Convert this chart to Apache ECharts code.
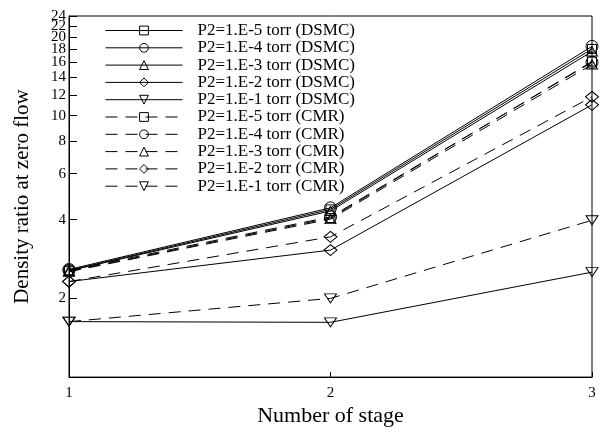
<!DOCTYPE html>
<html>
<head>
<meta charset="utf-8">
<script src="https://cdn.jsdelivr.net/npm/echarts@6/dist/echarts.min.js"></script>
<style>html,body{margin:0;padding:0;background:#fff}#c{width:600px;height:432px}</style>
</head>
<body>
<div id="c"></div>
<script>
const stages = [1, 2, 3];
const yTickValues = [2, 4, 6, 8, 10, 12, 14, 16, 18, 20, 22, 24];
const names = [
  'P2=1.E-5 torr (DSMC)', 'P2=1.E-4 torr (DSMC)', 'P2=1.E-3 torr (DSMC)',
  'P2=1.E-2 torr (DSMC)', 'P2=1.E-1 torr (DSMC)',
  'P2=1.E-5 torr (CMR)', 'P2=1.E-4 torr (CMR)', 'P2=1.E-3 torr (CMR)',
  'P2=1.E-2 torr (CMR)', 'P2=1.E-1 torr (CMR)'
];
const dsmcE5 = [2.56, 4.38, 18.0];
const dsmcE4 = [2.58, 4.44, 18.4];
const dsmcE3 = [2.55, 4.32, 17.6];
const dsmcE2 = [2.32, 3.06, 11.0];
const dsmcE1 = [1.63, 1.62, 2.52];
const cmrE5 = [2.54, 4.06, 16.1];
const cmrE4 = [2.56, 4.10, 16.0];
const cmrE3 = [2.53, 4.02, 15.7];
const cmrE2 = [2.32, 3.44, 11.8];
const cmrE1 = [1.63, 2.00, 3.98];

const values = [dsmcE5, dsmcE4, dsmcE3, dsmcE2, dsmcE1, cmrE5, cmrE4, cmrE3, cmrE2, cmrE1];
const downTri = 'path://M0,0L12,0L6,10Z';
const symbols = ['rect', 'circle', 'triangle', 'diamond', downTri];
const symbolSizes = [[9, 9], 12, [11, 9], [13, 11], [12, 9]];
const FONT = '"Liberation Serif", "DejaVu Serif", serif';

const series = values.map((vals, i) => ({
  name: names[i],
  type: 'line',
  yAxisIndex: 0,
  data: stages.map((s, j) => [s, vals[j]]),
  symbol: symbols[i % 5],
  symbolSize: symbolSizes[i % 5],
  showAllSymbol: true,
  clip: false,
  lineStyle: { color: '#000', width: 1, type: i < 5 ? 'solid' : [12, 8] },
  itemStyle: { color: 'rgba(255,255,255,0)', borderColor: '#000', borderWidth: 1 },
  emphasis: { disabled: true },
  animation: false
}));

const yMin = 1, yMax = 24.05;
// label groups: crowded top labels are split over overlaid axes so all are drawn
const labelGroups = [
  yTickValues.slice(0, 8),
  [yTickValues[8], yTickValues[10]],
  [yTickValues[9], yTickValues[11]]
];

const labelAxis = (vals, idx) => ({
  type: 'log', logBase: 10, min: yMin, max: yMax, position: 'left', offset: 0,
  name: idx === 0 ? 'Density ratio at zero flow' : '',
  nameLocation: 'middle', nameGap: 36,
  nameTextStyle: { fontFamily: FONT, fontSize: 21, color: '#000' },
  axisLine: { show: idx === 0, lineStyle: { color: '#000', width: 1 } },
  axisTick: { show: idx === 0, inside: true, length: 8, customValues: yTickValues, lineStyle: { color: '#000' } },
  axisLabel: { fontFamily: FONT, fontSize: 15, color: '#000', margin: 3, customValues: vals, showMaxLabel: true, showMinLabel: true },
  minorTick: { show: false },
  splitLine: { show: false }
});

const chart = echarts.init(document.getElementById('c'));
chart.setOption({
  animation: false,
  backgroundColor: '#fff',
  grid: { left: 69, right: 8, top: 16, bottom: 41, show: true, borderColor: '#000', borderWidth: 1, backgroundColor: 'transparent' },
  legend: {
    orient: 'vertical', left: 100, top: 17,
    itemWidth: 77, itemHeight: 11, itemGap: 0.3,
    lineStyle: { width: 1 },
    itemStyle: { borderWidth: 1 },
    textStyle: { fontFamily: FONT, fontSize: 17, color: '#000', lineHeight: 17, padding: [0, 0, 0, 10] },
    data: names
  },
  xAxis: {
    type: 'value', min: 1, max: 3, interval: 1,
    name: 'Number of stage', nameLocation: 'middle', nameGap: 20,
    nameTextStyle: { fontFamily: FONT, fontSize: 22, color: '#000' },
    axisLine: { lineStyle: { color: '#000', width: 1 } },
    axisTick: { show: true, inside: true, length: 5, lineStyle: { color: '#000' } },
    axisLabel: { fontFamily: FONT, fontSize: 15, color: '#000', margin: 8 },
    splitLine: { show: false }
  },
  yAxis: labelGroups.map(labelAxis),
  series: series
});
</script>
</body>
</html>
